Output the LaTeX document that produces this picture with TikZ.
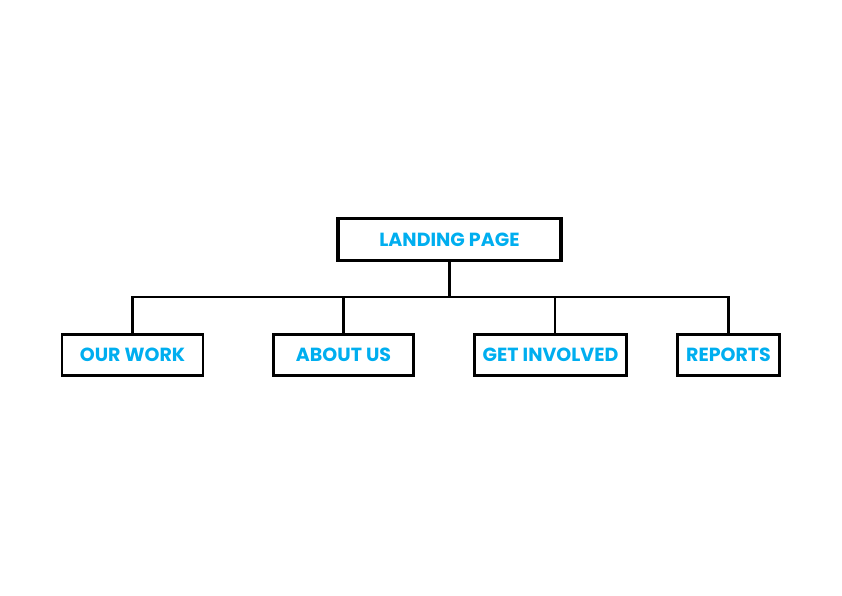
\documentclass[tikz,border=0pt]{standalone}
\usepackage{fontspec}
\setmainfont{Poppins}
\definecolor{linkblue}{HTML}{00AEEF}
\tikzset{
  page/.style={draw, line width=2.8pt, minimum height=41pt, inner sep=0pt,
    font=\fontsize{19}{19}\selectfont\bfseries, text=linkblue},
  toppage/.style={page, line width=3.4pt, minimum height=41.5pt},
  link/.style={line width=2.5pt}
}
\begin{document}
\begin{tikzpicture}[x=1pt, y=1pt]
  \useasboundingbox (0, 0) rectangle (842, 596);
  \node [toppage, minimum width=223pt] (landing) at (449.5, 356.5) {LANDING PAGE};
  \node [page, minimum width=141pt] (ourwork) at (132.5, 241) {OUR WORK};
  \node [page, minimum width=140pt] (aboutus) at (343.5, 241) {ABOUT US};
  \node [page, minimum width=152pt] (getinvolved) at (550.5, 241) {GET INVOLVED};
  \node [page, minimum width=102pt] (reports) at (728.5, 241) {REPORTS};
  \coordinate (bus) at (449.5, 299);
  \draw [link] (landing.south) -- (bus);
  \draw [link] (ourwork.north) |- (bus) -| (reports.north);
  \draw [link] (aboutus.north) -- (aboutus.north |- bus);
  \draw [link] ([xshift=4.5pt]getinvolved.north) -- ([xshift=4.5pt]getinvolved.north |- bus);
\end{tikzpicture}
\end{document}
